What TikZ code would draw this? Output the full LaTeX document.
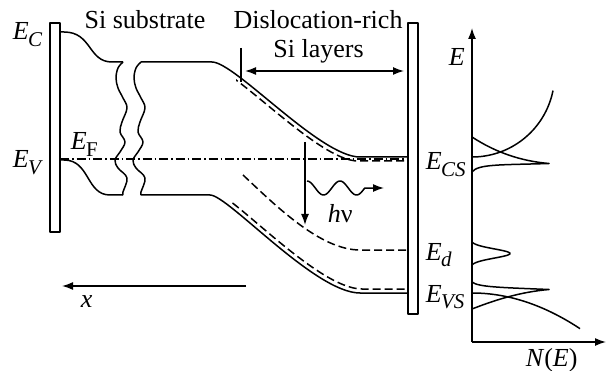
\documentclass[tikz,border=0pt]{standalone}
\usepackage{fontspec}
\setmainfont{Liberation Serif}
\usetikzlibrary{arrows.meta}
\newcommand{\Esub}[1]{\textit{E}\kern-0.5pt\raisebox{-6.5pt}{\fontsize{21}{24}\selectfont #1}}
\begin{document}
\begin{tikzpicture}[x=1pt,y=-1pt,line width=1.5pt,line join=round,
  font=\fontsize{26}{30}\selectfont,
  bar/.style={line width=1.6pt},
  dband/.style={line width=1.5pt,dash pattern=on 8pt off 4pt},
  fermi/.style={dash pattern=on 9pt off 3pt on 1.5pt off 3pt},
  arr/.style={-{Latex[length=11pt,width=8pt]}},
  lbl/.style={inner sep=0pt,anchor=base west},
  ctr/.style={inner sep=0pt,anchor=base}]
\useasboundingbox (0,0) rectangle (607,371);
% contacts
\draw[bar] (50,23) rectangle (60,232);
\draw[bar] (408,23) rectangle (418,314);
% left part of bands
\draw (60,32) -- (64,32) .. controls (92,32) and (88,62) .. (112,62) -- (123,62);
\draw (60,160) -- (64,160) .. controls (90,160) and (86,195) .. (110,195) -- (123,195);
% break lines
\foreach \sx in {123,141}{
  \draw[shift={(\sx,62)}] plot[smooth,tension=0.6] coordinates {(0,0) (-5,6) (-7,16) (-5,26) (0,36) (4,46) (-1,60) (-3,70) (2,80) (-3,90) (-8,98) (-5,106) (4,116) (0,130) (0,133)};
}
% right part of bands
\draw (141,62) -- (212,62) .. controls (235,62) and (320,157) .. (360,157) -- (408,157);
\draw (141,195) -- (210,195) .. controls (228,195) and (315,293) .. (360,293) -- (408,293);
\begin{scope}
  \clip (236,0) rectangle (408,371);
  \draw[dband,shift={(-2,4)}] (212,62) .. controls (235,62) and (320,157) .. (360,157) -- (412,157);
\end{scope}
\begin{scope}
  \clip (232,0) rectangle (408,371);
  \draw[dband,shift={(2,-4)}] (210,195) .. controls (228,195) and (315,293) .. (360,293) -- (408,293);
\end{scope}
\draw[dband] (243,175) .. controls (275,205) and (320,250) .. (360,250) -- (408,250);
% Fermi level
\draw[fermi] (60,159) -- (408,159);
% layer marker and range
\draw[line width=1.1pt] (241,48) -- (241,82);
\draw[{Latex[length=11pt,width=8pt]}-{Latex[length=11pt,width=8pt]}] (245,71) -- (404,71);
% x axis arrow
\draw[arr] (246,286) -- (62,286);
% transition and photon
\draw[arr] (305,142) -- (305,225);
\draw[arr] plot[domain=0:1.75,samples=60,smooth] ({307+33*\x},{188-7*cos(360*\x)}) -- (384,188);
% DOS axes
\draw[arr] (472,342) -- (472,28);
\draw[arr] (472,342) -- (606,342);
% DOS curves
\draw plot[domain=0:81,samples=60,smooth] ({472+\x},{74.4+sqrt(6823-\x*\x)});
\draw (472,137) .. controls (495,152) and (520,161) .. (549,163.5) .. controls (500,165) and (478,164) .. (472,172);
\draw plot[domain=-11.5:11.5,samples=60,smooth] ({472+38*(exp(-(\x/6.5)^2)-0.044)/0.956},{253.5+\x});
\draw (472,282) .. controls (478,287) and (500,287.5) .. (549,289.5) .. controls (520,292) and (495,300) .. (472,309);
\draw plot[domain=0:108,samples=60,smooth] ({472+\x},{293+35*(\x/107)^2});
% labels
\node[lbl] (ec) at (12,40) {\Esub{\textit{C}}};
\node[lbl] (ev) at (12,168) {\Esub{\textit{V}}};
\node[lbl] (ef) at (70,150) {\Esub{F}};
\node[lbl] (ecs) at (425,170) {\Esub{\textit{CS}}};
\node[lbl] (ed) at (425,260) {\Esub{\textit{d}}};
\node[lbl] (evs) at (425,302) {\Esub{\textit{VS}}};
\node[lbl] (eax) at (448,66) {\textit{E}};
\node[lbl] (ne) at (525,366) {\textit{N}(\textit{E})};
\node[lbl] (xl) at (80,307) {\textit{x}};
\node[lbl] (hv) at (327,223) {\textit{h}ν};
\node[ctr] (sub) at (145,28.5) {Si substrate};
\node[ctr] (dis) at (318,28.5) {Dislocation-rich};
\node[ctr] (lay) at (318.5,58) {Si layers};
\end{tikzpicture}
\end{document}
